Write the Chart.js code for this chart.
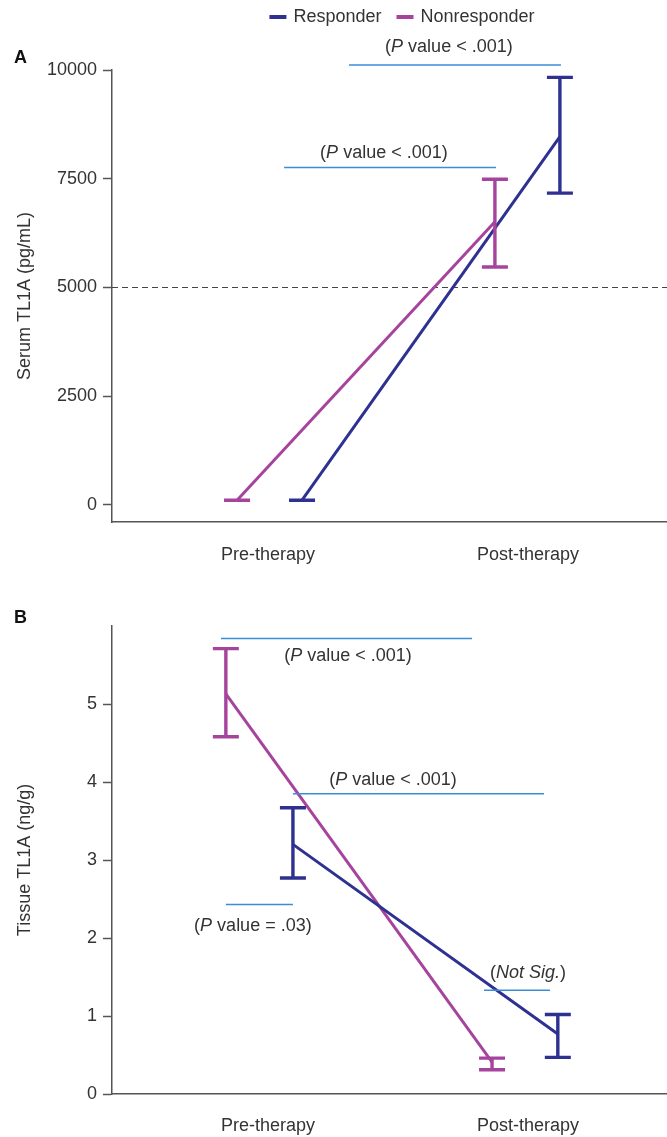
<!DOCTYPE html>
<html>
<head>
<meta charset="utf-8">
<script src="https://cdn.jsdelivr.net/npm/chart.js@4/dist/chart.umd.min.js"></script>
<style>
  html, body { margin: 0; padding: 0; background: #fff; }
  #wrap { position: relative; width: 667px; height: 1137px; }
  canvas { position: absolute; left: 0; }
</style>
</head>
<body>
<div id="wrap">
  <canvas id="chartA" width="667" height="575" style="top:0"></canvas>
  <canvas id="chartB" width="667" height="562" style="top:575px"></canvas>
</div>
<script>
const categories = ['Pre-therapy', 'Post-therapy'];
const seriesNames = ['Responder', 'Nonresponder'];

// A: serum TL1A (pg/mL)
const serumResp = [110, 8470];
const serumRespLo = [110, 7170];
const serumRespHi = [110, 9830];
const serumNon = [110, 6510];
const serumNonLo = [110, 5470];
const serumNonHi = [110, 7490];
const serumTicks = [0, 2500, 5000, 7500, 10000];

// B: tissue TL1A (ng/g)
const tissueResp = [3.20, 0.77];
const tissueRespLo = [2.77, 0.47];
const tissueRespHi = [3.67, 1.02];
const tissueNon = [5.13, 0.41];
const tissueNonLo = [4.58, 0.31];
const tissueNonHi = [5.71, 0.46];
const tissueTicks = [0, 1, 2, 3, 4, 5];

// horizontal dodge of each series around its category
const dodgeA = { resp: [0.131, 0.123], non: [-0.119, -0.127] };
const dodgeB = { resp: [0.096, 0.115], non: [-0.162, -0.138] };

// significance bars: x1/x2 in category units, y in data units
const pLess = [{ t: '(' }, { t: 'P', i: true }, { t: ' value < .001)' }];
const sigA = [
  { x1: 1.312, x2: 2.127, y: 10115, tx: 1.696, ty: 10518, parts: pLess },
  { x1: 1.062, x2: 1.877, y: 7756, tx: 1.446, ty: 8101, parts: pLess }
];
const sigB = [
  { x1: 0.819, x2: 1.785, y: 5.84, tx: 1.308, ty: 5.61, parts: pLess },
  { x1: 1.096, x2: 2.062, y: 3.85, tx: 1.481, ty: 4.03, parts: pLess },
  { x1: 0.838, x2: 1.096, y: 2.43, tx: 0.942, ty: 2.15, parts: [{ t: '(' }, { t: 'P', i: true }, { t: ' value = .03)' }] },
  { x1: 1.831, x2: 2.085, y: 1.33, tx: 2.0, ty: 1.55, parts: [{ t: '(' }, { t: 'Not Sig.', i: true }, { t: ')' }] }
];

const RESP = '#2e3190';
const NON = '#a6449d';
const SIG = '#3a8ed6';
const TXT = '#333';
const AXIS = '#555';
const FONT = '"Liberation Sans", Arial, sans-serif';

Chart.defaults.font.family = FONT;
Chart.defaults.font.size = 18;
Chart.defaults.color = TXT;

const pts = (vals, dodge) => vals.map((v, i) => ({ x: i + 1 + dodge[i], y: v }));

const overlay = {
  id: 'overlay',
  beforeDatasetsDraw(chart, args, opts) {
    if (opts.dashY === undefined) return;
    const { ctx, chartArea, scales } = chart;
    const y = scales.y.getPixelForValue(opts.dashY);
    ctx.save();
    ctx.strokeStyle = '#444';
    ctx.lineWidth = 1.2;
    ctx.setLineDash([6, 4]);
    ctx.beginPath();
    ctx.moveTo(chartArea.left, y);
    ctx.lineTo(chartArea.right, y);
    ctx.stroke();
    ctx.restore();
  },
  afterDatasetsDraw(chart, args, opts) {
    const { ctx, scales } = chart;
    const xs = scales.x, ys = scales.y;
    ctx.save();
    // error bars
    opts.errors.forEach((e, di) => {
      const ds = chart.data.datasets[di];
      ctx.strokeStyle = ds.borderColor;
      ctx.lineWidth = 3.4;
      ds.data.forEach((p, i) => {
        const x = xs.getPixelForValue(p.x);
        const lo = ys.getPixelForValue(e.lo[i]);
        const hi = ys.getPixelForValue(e.hi[i]);
        ctx.beginPath();
        ctx.moveTo(x, lo); ctx.lineTo(x, hi);
        ctx.moveTo(x - 13, lo); ctx.lineTo(x + 13, lo);
        ctx.moveTo(x - 13, hi); ctx.lineTo(x + 13, hi);
        ctx.stroke();
      });
    });
    // significance bars
    opts.sig.forEach(s => {
      const y = ys.getPixelForValue(s.y);
      ctx.strokeStyle = SIG;
      ctx.lineWidth = 1.5;
      ctx.beginPath();
      ctx.moveTo(xs.getPixelForValue(s.x1), y);
      ctx.lineTo(xs.getPixelForValue(s.x2), y);
      ctx.stroke();
      const fonts = s.parts.map(p => (p.i ? 'italic ' : '') + '18px ' + FONT);
      let w = 0;
      s.parts.forEach((p, k) => { ctx.font = fonts[k]; w += ctx.measureText(p.t).width; });
      let x = xs.getPixelForValue(s.tx) - w / 2;
      const ty = ys.getPixelForValue(s.ty);
      ctx.fillStyle = TXT;
      ctx.textBaseline = 'middle';
      ctx.textAlign = 'left';
      s.parts.forEach((p, k) => {
        ctx.font = fonts[k];
        ctx.fillText(p.t, x, ty);
        x += ctx.measureText(p.t).width;
      });
    });
    // panel letter
    ctx.fillStyle = '#111';
    ctx.font = 'bold 18px ' + FONT;
    ctx.textBaseline = 'middle';
    ctx.fillText(opts.panel, 14, opts.panelY);
    // legend
    if (opts.legend) {
      ctx.font = '18px ' + FONT;
      const items = chart.data.datasets.map(d => ({ label: d.label, color: d.borderColor, w: ctx.measureText(d.label).width }));
      const total = items.reduce((a, it) => a + 17 + 7 + it.w, 0) + 15 * (items.length - 1);
      let x = 402 - total / 2;
      const y = 17;
      items.forEach(it => {
        ctx.strokeStyle = it.color;
        ctx.lineWidth = 4;
        ctx.beginPath();
        ctx.moveTo(x, y); ctx.lineTo(x + 17, y);
        ctx.stroke();
        x += 24;
        ctx.fillStyle = TXT;
        ctx.fillText(it.label, x, y);
        x += it.w + 15;
      });
    }
    ctx.restore();
  }
};

function makeChart(id, cfg) {
  return new Chart(document.getElementById(id), {
    type: 'line',
    data: {
      datasets: [
        { label: seriesNames[0], data: cfg.resp, borderColor: RESP, borderWidth: 3, pointRadius: 0, tension: 0, fill: false },
        { label: seriesNames[1], data: cfg.non, borderColor: NON, borderWidth: 3, pointRadius: 0, tension: 0, fill: false }
      ]
    },
    options: {
      responsive: false,
      animation: false,
      devicePixelRatio: 1,
      layout: { padding: { top: cfg.top, left: 0, right: 0, bottom: 0 } },
      plugins: {
        legend: { display: false },
        tooltip: { enabled: false },
        overlay: cfg.overlay
      },
      scales: {
        x: {
          type: 'linear',
          min: 0.4,
          max: 2.535,
          afterBuildTicks: s => { s.ticks = categories.map((c, i) => ({ value: i + 1 })); },
          afterFit: s => { s.height = cfg.xHeight; },
          ticks: { callback: (v, i) => categories[i], padding: cfg.xPad, autoSkip: false, maxRotation: 0, color: TXT },
          grid: { display: false, drawTicks: false },
          border: { display: true, color: AXIS, width: 1.5 }
        },
        y: {
          type: 'linear',
          min: cfg.yMin,
          max: cfg.yMax,
          afterBuildTicks: s => { s.ticks = cfg.ticks.map(v => ({ value: v })); },
          afterFit: s => { s.width = 112; },
          ticks: { callback: v => String(v), padding: 6, color: TXT },
          grid: { display: true, drawOnChartArea: false, drawTicks: true, tickLength: 9, tickColor: AXIS, tickWidth: 1.5 },
          border: { display: true, color: AXIS, width: 1.5 },
          title: { display: true, text: cfg.title, color: TXT, padding: { top: 14, bottom: 0 } }
        }
      }
    },
    plugins: [overlay]
  });
}

makeChart('chartA', {
  resp: pts(serumResp, dodgeA.resp),
  non: pts(serumNon, dodgeA.non),
  top: 70, xHeight: 53, xPad: 22,
  yMin: -391, yMax: 10000, ticks: serumTicks,
  title: 'Serum TL1A (pg/mL)',
  overlay: {
    errors: [{ lo: serumRespLo, hi: serumRespHi }, { lo: serumNonLo, hi: serumNonHi }],
    sig: sigA, dashY: 5000, panel: 'A', panelY: 58, legend: true
  }
});

makeChart('chartB', {
  resp: pts(tissueResp, dodgeB.resp),
  non: pts(tissueNon, dodgeB.non),
  top: 51, xHeight: 43, xPad: 21,
  yMin: 0, yMax: 6, ticks: tissueTicks,
  title: 'Tissue TL1A (ng/g)',
  overlay: {
    errors: [{ lo: tissueRespLo, hi: tissueRespHi }, { lo: tissueNonLo, hi: tissueNonHi }],
    sig: sigB, panel: 'B', panelY: 43, legend: false
  }
});
</script>
</body>
</html>
